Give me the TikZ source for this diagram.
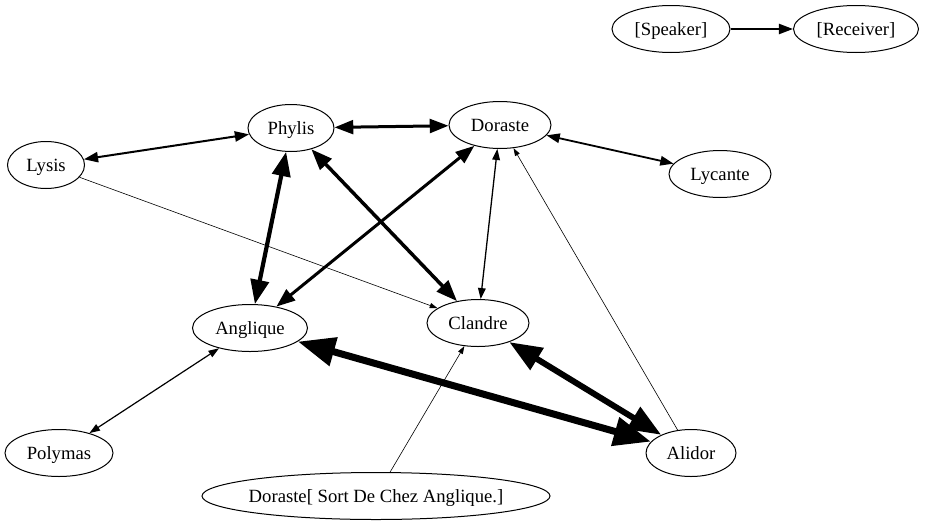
\documentclass[tikz,border=0pt]{standalone}
\usepackage{fontspec}
\setmainfont{Liberation Serif}
\usetikzlibrary{shapes.geometric,arrows.meta}
\begin{document}
\begin{tikzpicture}[x=1pt,y=-1pt,
  person/.style={ellipse, draw, line width=1pt, inner sep=0pt,
    font=\fontsize{18.67}{22}\selectfont, minimum height=47pt,
    text height=13pt, text depth=0.5pt},
  gv/.tip={Triangle[length=5pt 4.6, width=3pt 3.6]},
  bi/.style={line width=#1, gv-gv},
  uni/.style={line width=#1, -gv}]
\useasboundingbox (0,0) rectangle (925,525);

\node[person, minimum width=118pt] (spk) at (671,29) {[Speaker]};
\node[person, minimum width=125pt] (rcv) at (856,29) {[Receiver]};

\node[person, minimum width=86pt]  (phylis)   at (291,128) {Phylis};
\node[person, minimum width=102pt] (doraste)  at (500,125) {Doraste};
\node[person, minimum width=77pt]  (lysis)    at (46,165)  {Lysis};
\node[person, minimum width=102pt] (lycante)  at (720,174) {Lycante};
\node[person, minimum width=115pt] (anglique) at (250,328) {Anglique};
\node[person, minimum width=102pt] (clandre)  at (478,323) {Clandre};
\node[person, minimum width=108pt] (polymas)  at (59,453)  {Polymas};
\node[person, minimum width=90pt]  (alidor)   at (691,453) {Alidor};
\node[person, minimum width=348pt, inner xsep=-5pt] (sort) at (376,496) {Doraste[ Sort De Chez Anglique.]};

\draw[uni=2pt] (spk) -- (rcv);

\draw[bi=2pt]   (lysis) -- (phylis);
\draw[bi=3pt]   (phylis) -- (doraste);
\draw[bi=4.2pt] (phylis) -- (anglique);
\draw[bi=3.5pt] (phylis) -- (clandre);
\draw[bi=3pt]   (doraste) -- (anglique);
\draw[bi=1.3pt] (doraste) -- (clandre);
\draw[bi=1.8pt] (doraste) -- (lycante);
\draw[uni=0.6pt] (lysis) -- (clandre);
\draw[uni=0.6pt] (alidor) -- (doraste);
\draw[uni=0.6pt] (sort) -- (clandre);
\draw[bi=7pt]   (anglique) -- (alidor);
\draw[bi=6pt]   (clandre) -- (alidor);
\draw[bi=1.2pt] (polymas) -- (anglique);
\end{tikzpicture}
\end{document}
